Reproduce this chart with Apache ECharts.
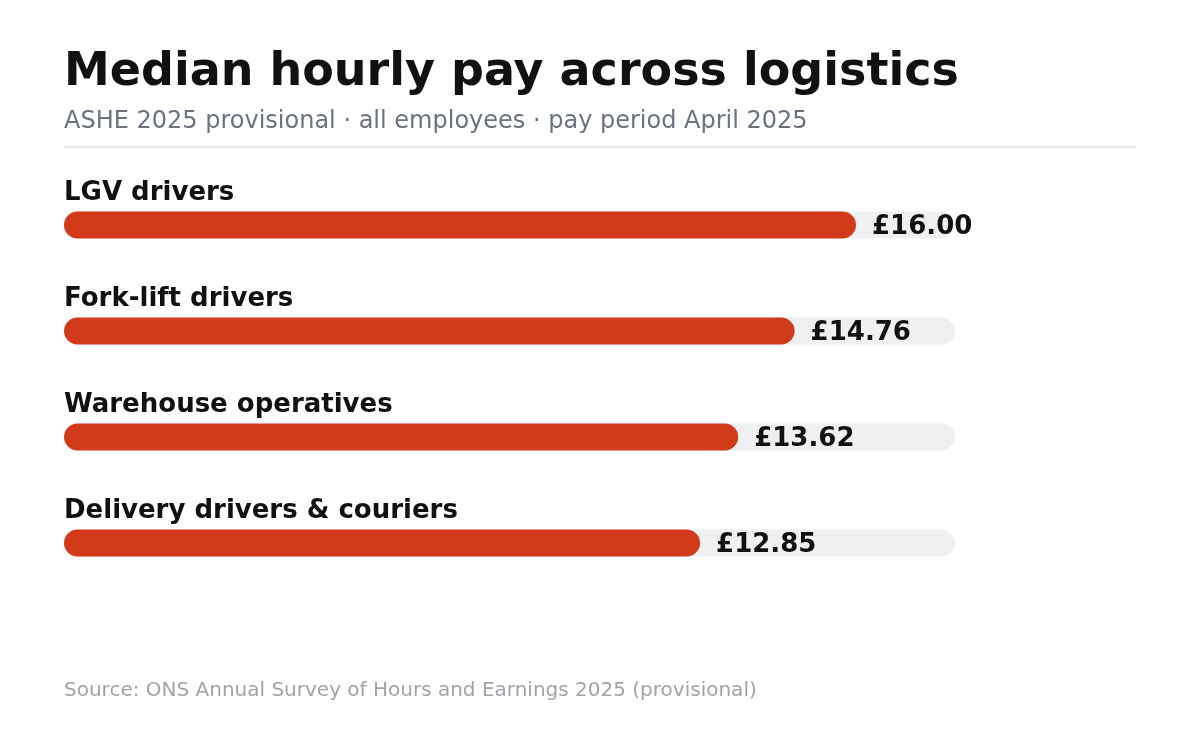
<!DOCTYPE html>
<html><head><meta charset="utf-8">
<script src="https://cdn.jsdelivr.net/npm/echarts@6/dist/echarts.min.js"></script>
<style>html,body{margin:0;padding:0;background:#fff}#c{width:1200px;height:734px}</style>
</head><body><div id="c"></div>
<script>
const categories = ["LGV drivers","Fork-lift drivers","Warehouse operatives","Delivery drivers & couriers"];
const values = [16.00,14.76,13.62,12.85];
const F = "DejaVu Sans";
const chart = echarts.init(document.getElementById('c'));
chart.setOption({
  animation:false,
  textStyle:{fontFamily:F},
  title:[
    {text:"Median hourly pay across logistics",left:64,top:50,padding:0,textStyle:{fontFamily:F,fontSize:46,fontWeight:'bold',color:'#111111'}},
    {text:"ASHE 2025 provisional · all employees · pay period April 2025",left:64,top:110,padding:0,textStyle:{fontFamily:F,fontSize:24,fontWeight:'normal',color:'#6b7280'}},
    {text:"Source: ONS Annual Survey of Hours and Earnings 2025 (provisional)",left:64,top:681,padding:0,textStyle:{fontFamily:F,fontSize:20,fontWeight:'normal',color:'#a0a3a8'}}
  ],
  graphic:[{type:'line',shape:{x1:64,y1:147,x2:1136,y2:147},style:{stroke:'#e5e7eb',lineWidth:2}}],
  grid:{left:64,top:172,width:891,height:424},
  xAxis:{type:'value',min:0,max:18,show:false},
  yAxis:{type:'category',data:categories,inverse:true,axisLine:{show:false},axisTick:{show:false},
    axisLabel:{inside:true,margin:0,align:'left',verticalAlign:'bottom',padding:[0,0,19,0],fontFamily:F,fontSize:26,fontWeight:'bold',color:'#111111'}},
  series:[{type:'bar',data:values,barWidth:27,showBackground:true,
    backgroundStyle:{color:'#eef0f2',borderRadius:13.5},
    itemStyle:{color:'#d13b1a',borderRadius:13.5},
    label:{show:true,position:'right',distance:16,offset:[0,2],fontFamily:F,fontSize:26,fontWeight:'bold',color:'#111111',
      formatter:p=>'£'+p.value.toFixed(2)}}]
});
</script></body></html>
